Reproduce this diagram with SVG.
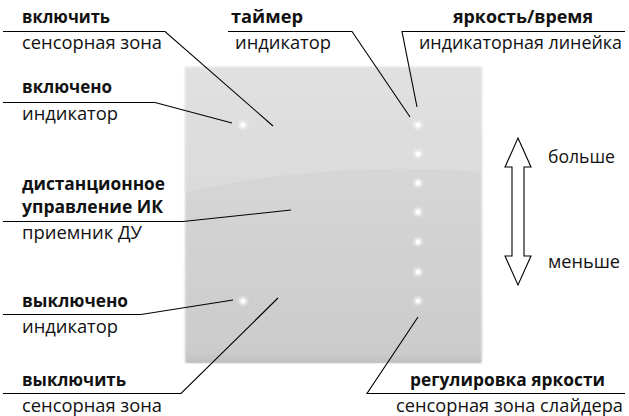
<svg xmlns="http://www.w3.org/2000/svg" width="629" height="416" viewBox="0 0 629 416">
<style>
text{font-family:"Open Sans","Noto Sans","DejaVu Sans",sans-serif;font-size:17.5px;fill:#111}
.b{font-weight:bold}
.ln{fill:none;stroke:#000;stroke-width:1.1}
.dot{fill:#fff}
.halo{fill:#fff;opacity:0.7}
</style>
<defs>
<linearGradient id="pg" x1="0" y1="0" x2="0" y2="1">
<stop offset="0" stop-color="#dcdcdc"/>
<stop offset="1" stop-color="#cbcbcb"/>
</linearGradient>
<linearGradient id="bot" x1="0" y1="0" x2="0" y2="1">
<stop offset="0" stop-color="#bdbdbd" stop-opacity="0"/>
<stop offset="1" stop-color="#b5b5b5" stop-opacity="1"/>
</linearGradient>
<filter id="blur" x="-50%" y="-50%" width="200%" height="200%"><feGaussianBlur stdDeviation="1.5"/></filter>
<filter id="soft" x="-5%" y="-5%" width="110%" height="110%"><feGaussianBlur stdDeviation="1.2"/></filter>
</defs>
<g id="panel">
<rect x="185" y="67" width="297" height="296" fill="url(#pg)" filter="url(#soft)"/>
<path d="M186,68 H481 V172 Q330,160 186,192 Z" fill="#fff" opacity="0.15"/>
<rect x="186" y="352" width="295" height="11" fill="url(#bot)" opacity="0.6"/>
</g>
<g id="dots">
<g id="dot-on"><circle cx="243" cy="125" r="4" class="halo" filter="url(#blur)"/><circle cx="243" cy="125" r="2.2" class="dot"/></g>
<g id="dot-off"><circle cx="243" cy="301" r="4" class="halo" filter="url(#blur)"/><circle cx="243" cy="301" r="2.2" class="dot"/></g>
<g id="dot-bar">
<circle cx="418" cy="125" r="4" class="halo" filter="url(#blur)"/><circle cx="418" cy="125" r="2.2" class="dot"/>
<circle cx="418" cy="154" r="4" class="halo" filter="url(#blur)"/><circle cx="418" cy="154" r="2.2" class="dot"/>
<circle cx="418" cy="183" r="4" class="halo" filter="url(#blur)"/><circle cx="418" cy="183" r="2.2" class="dot"/>
<circle cx="418" cy="212" r="4" class="halo" filter="url(#blur)"/><circle cx="418" cy="212" r="2.2" class="dot"/>
<circle cx="418" cy="242" r="4" class="halo" filter="url(#blur)"/><circle cx="418" cy="242" r="2.2" class="dot"/>
<circle cx="418" cy="272" r="4" class="halo" filter="url(#blur)"/><circle cx="418" cy="272" r="2.2" class="dot"/>
<circle cx="418" cy="301" r="4" class="halo" filter="url(#blur)"/><circle cx="418" cy="301" r="2.2" class="dot"/>
</g>
</g>
<g id="connectors">
<path class="ln" d="M3,31.5 H165 L273,126"/>
<path class="ln" d="M228,31.5 H352 L410,117"/>
<path class="ln" d="M625,31.5 H402 L417,107"/>
<path class="ln" d="M3,102.5 H155 L232,123"/>
<path class="ln" d="M3,221.5 H183 L291,210"/>
<path class="ln" d="M3,314.5 H141 L233,300"/>
<path class="ln" d="M3,393.5 H181 L278,298"/>
<path class="ln" d="M625,393.5 H367 L418,317"/>
</g>
<g id="arrow">
<polygon points="518,138 531,167 524,167 524,256 531,256 518,285 505,256 512,256 512,167 505,167" fill="#fff" stroke="#000" stroke-width="1.1" stroke-linejoin="miter"/>
</g>
<g id="label-on-zone"><text x="22" y="23" class="b" textLength="88" lengthAdjust="spacingAndGlyphs">включить</text><text x="22" y="49" textLength="140" lengthAdjust="spacingAndGlyphs">сенсорная зона</text></g>
<g id="label-on-ind"><text x="22" y="93" class="b" textLength="90" lengthAdjust="spacingAndGlyphs">включено</text><text x="22" y="120" textLength="96" lengthAdjust="spacingAndGlyphs">индикатор</text></g>
<g id="label-ir"><text x="22" y="190" class="b" textLength="143" lengthAdjust="spacingAndGlyphs">дистанционное</text><text x="22" y="213" class="b" textLength="141" lengthAdjust="spacingAndGlyphs">управление ИК</text><text x="22" y="239" textLength="120" lengthAdjust="spacingAndGlyphs">приемник ДУ</text></g>
<g id="label-off-ind"><text x="22" y="307" class="b" textLength="106" lengthAdjust="spacingAndGlyphs">выключено</text><text x="22" y="333" textLength="96" lengthAdjust="spacingAndGlyphs">индикатор</text></g>
<g id="label-off-zone"><text x="22" y="386" class="b" textLength="104" lengthAdjust="spacingAndGlyphs">выключить</text><text x="22" y="412" textLength="140" lengthAdjust="spacingAndGlyphs">сенсорная зона</text></g>
<g id="label-timer"><text x="231" y="23" class="b" textLength="72" lengthAdjust="spacingAndGlyphs">таймер</text><text x="235" y="49" textLength="96" lengthAdjust="spacingAndGlyphs">индикатор</text></g>
<g id="label-bar"><text x="453" y="23" class="b" textLength="140" lengthAdjust="spacingAndGlyphs">яркость/время</text><text x="419" y="49" textLength="203" lengthAdjust="spacingAndGlyphs">индикаторная линейка</text></g>
<g id="label-slider"><text x="410" y="386" class="b" textLength="195" lengthAdjust="spacingAndGlyphs">регулировка яркости</text><text x="396" y="412" textLength="227" lengthAdjust="spacingAndGlyphs">сенсорная зона слайдера</text></g>
<g id="label-more"><text x="548" y="163" textLength="67" lengthAdjust="spacingAndGlyphs">больше</text></g>
<g id="label-less"><text x="548" y="268" textLength="72" lengthAdjust="spacingAndGlyphs">меньше</text></g>
</svg>
